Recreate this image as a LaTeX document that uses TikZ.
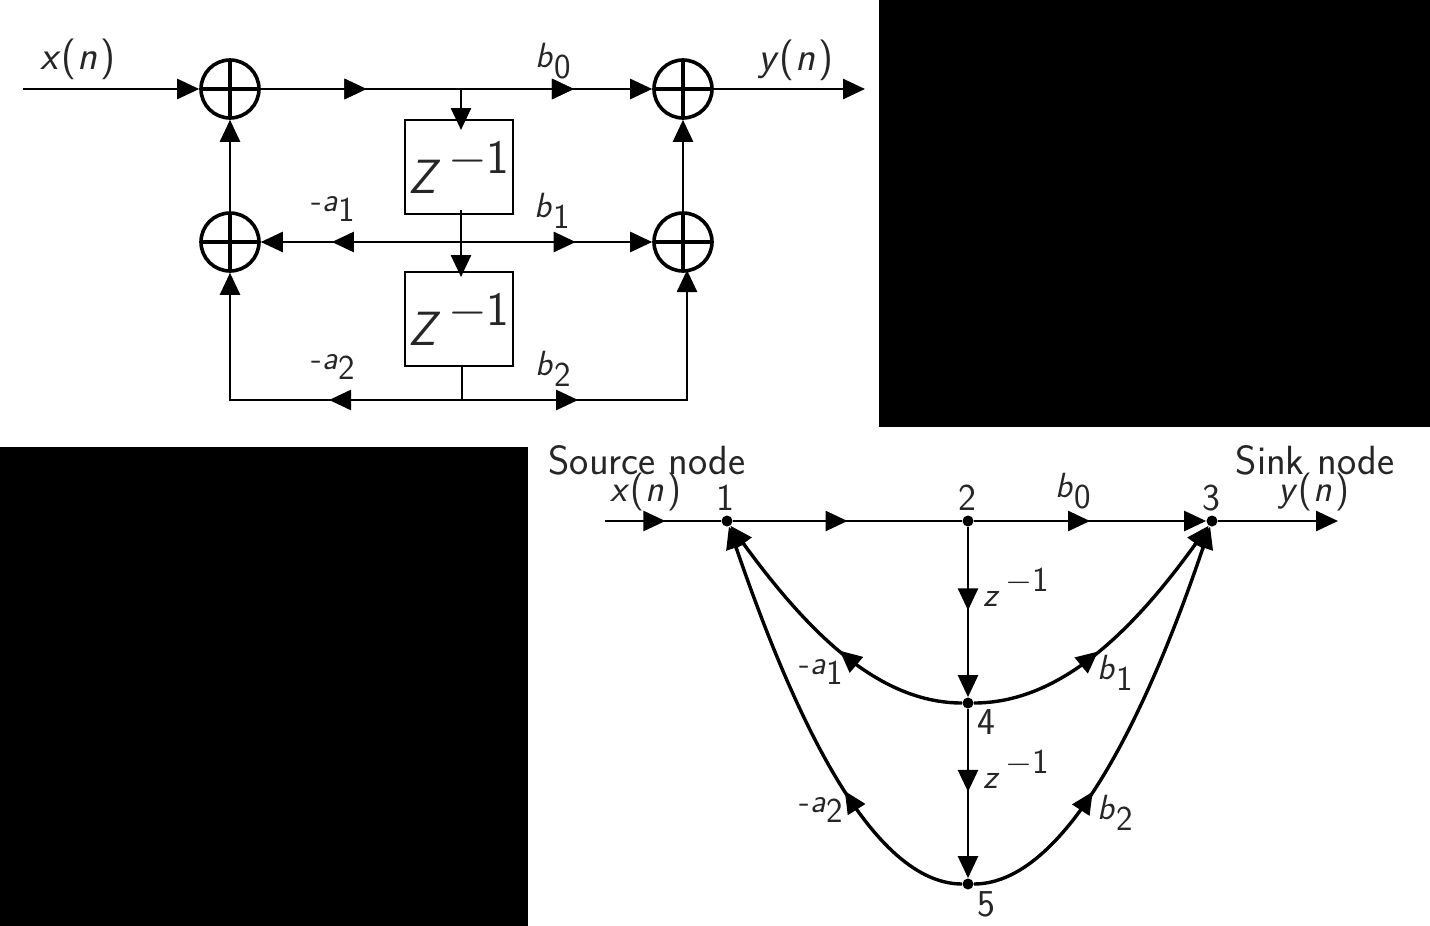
\documentclass[tikz,border=0pt]{standalone}
\usetikzlibrary{arrows.meta,decorations.markings,calc}
\newcommand{\lab}[2]{\textit{#1}\kern.02em\raisebox{-.32em}{\upshape #2}}
\newcommand{\mlab}[1]{{\fontsize{17}{18}\selectfont -\textit{a}}\raisebox{-.3em}{\upshape #1}}
\newcommand{\funcof}[1]{\textit{#1}(\kern.04em\textit{n}\kern.08em)}
\newcommand{\zinv}[1]{\textit{#1}\kern.16em\raisebox{.42em}{$-$1}}
\tikzset{
  x=0.5pt,y=-0.5pt,
  wire/.style={line width=1.3pt,draw=black},
  curve/.style={line width=1.7pt,draw=black},
  tipped/.style={-{Triangle[length=11pt,width=10pt]}},
  midtip/.style={postaction={decorate},decoration={markings,mark=at position #1 with {\arrow{Triangle[length=11pt,width=10pt]}}}},
  adder/.style={circle,draw=black,line width=1.8pt,minimum size=29pt,inner sep=0pt,
    path picture={\draw[line width=1.8pt] (path picture bounding box.north)--(path picture bounding box.south)
      (path picture bounding box.west)--(path picture bounding box.east);}},
  delay/.style={draw=black,line width=1pt,minimum width=54pt,minimum height=47pt,inner sep=0pt},
  dot/.style={circle,fill=black,minimum size=5.5pt,inner sep=0pt},
  txt/.style={inner sep=0pt,font=\sffamily\fontsize{17.5}{20}\selectfont,text=black!85},
  digit/.style={inner sep=0pt,font=\sffamily\fontsize{19}{21}\selectfont,text=black!85},
  wide/.style={inner sep=0pt,font=\sffamily\fontsize{20.4}{22}\selectfont,text=black!85},
  smallfn/.style={inner sep=0pt,font=\sffamily\fontsize{19}{21}\selectfont,text=black!85},
  bigtxt/.style={inner sep=0pt,font=\sffamily\fontsize{24}{28}\selectfont,text=black!85},
  mask/.style={fill=black,draw=none},
}
\begin{document}
\begin{tikzpicture}
\useasboundingbox (0,0) rectangle (1430,926);
\fill[white] (0,0) rectangle (1430,926);
\fill[mask] (879,0) rectangle (1430,427);
\fill[mask] (0,447) rectangle (528,926);

% upper diagram
\node[adder] (s1) at (230,89) {};
\node[adder] (s2) at (683,89) {};
\node[adder] (s3) at (230,242) {};
\node[adder] (s4) at (683,242) {};
\node[delay] (d1) at (459,167) {};
\node[delay] (d2) at (459,319) {};
\coordinate (in) at (23,89);
\coordinate (out) at (865,89);
\coordinate (j1) at (461,89);
\coordinate (j2) at (461,242);
\coordinate (d1top) at (461,130);
\coordinate (d1bot) at (461,210);
\coordinate (d2top) at (461,277);
\coordinate (d2bot) at (462,365);
\coordinate (j3) at (462,400);
\coordinate (bl) at (230,400);
\coordinate (br) at (687,400);
\coordinate (s4b) at (687,270);

\draw[wire,tipped] (in) -- (s1);
\draw[wire,tipped,midtip=0.27,midtip=0.8] (s1) -- (s2);
\draw[wire,tipped] (s2) -- (out);
\draw[wire,tipped] (j1) -- (d1top);
\draw[wire,tipped] (d1bot) -- (d2top);
\draw[wire,tipped,midtip=0.645] (j2) -- (s3);
\draw[wire,tipped,midtip=0.6] (j2) -- (s4);
\draw[wire,tipped] (s3) -- (s1);
\draw[wire,tipped] (s4) -- (s2);
\draw[wire] (d2bot) -- (j3);
\draw[wire,tipped,midtip=0.37] (j3) -- (bl) -- (s3);
\draw[wire,tipped,midtip=0.327] (j3) -- (br) -- (s4b);

\node[wide] (tx) at (78,59) {\funcof{x}};
\node[wide] (ty) at (796,60) {\funcof{y}};
\node[txt] (tb0) at (553,61) {\lab{b}{0}};
\node[txt] (tb1) at (552,211) {\lab{b}{1}};
\node[txt] (tb2) at (553,369) {\lab{b}{2}};
\node[txt] (ta1) at (333,209) {\mlab{1}};
\node[txt] (ta2) at (333,367) {\mlab{2}};
\node[bigtxt] (z1) at (459,167) {\zinv{Z}};
\node[bigtxt] (z2) at (459,319) {\zinv{Z}};

% lower diagram
\node[dot] (n1) at (727,521) {};
\node[dot] (n2) at (968,521) {};
\node[dot] (n3) at (1212,521) {};
\node[dot] (n4) at (968,703) {};
\node[dot] (n5) at (968,884) {};
\coordinate (src) at (605,521);
\coordinate (snk) at (1338,521);

\draw[wire,midtip=0.52] (src) -- (n1);
\draw[wire,midtip=0.5] (n1) -- (n2);
\draw[wire,tipped,midtip=0.5] (n2) -- (n3);
\draw[wire,tipped] (n3) -- (snk);
\draw[wire,tipped,midtip=0.49] (n2) -- (n4);
\draw[wire,tipped,midtip=0.49] (n4) -- (n5);
\draw[curve,tipped,midtip=0.45] (n4) .. controls (880,703) and (810,635) .. (n1);
\draw[curve,tipped,midtip=0.45] (n4) .. controls (1058,703) and (1130,635) .. (n3);
\draw[curve,tipped,midtip=0.35] (n5) .. controls (865,884) and (785,690) .. (n1);
\draw[curve,tipped,midtip=0.35] (n5) .. controls (1072,884) and (1155,690) .. (n3);

\node[wide] (tsrc) at (647,460) {Source node};
\node[wide] (tsnk) at (1315,460) {Sink node};
\node[smallfn] (tx2) at (646,492) {\funcof{x}};
\node[smallfn] (ty2) at (1314,492) {\funcof{y}};
\node[digit] (l1) at (725,498) {1};
\node[digit] (l2) at (967,498) {2};
\node[digit] (l3) at (1211,498) {3};
\node[digit] (l4) at (986,722) {4};
\node[digit] (l5) at (986,904) {5};
\node[txt] (tb0b) at (1073,491) {\lab{b}{0}};
\node[txt] (tb1b) at (1115,673) {\lab{b}{1}};
\node[txt] (tb2b) at (1115,813) {\lab{b}{2}};
\node[txt] (ta1b) at (821,672) {\mlab{1}};
\node[txt] (ta2b) at (821,810) {\mlab{2}};
\node[txt] (zu) at (1016,587) {\zinv{z}};
\node[txt] (zl) at (1016,769) {\zinv{z}};
\end{tikzpicture}
\end{document}
